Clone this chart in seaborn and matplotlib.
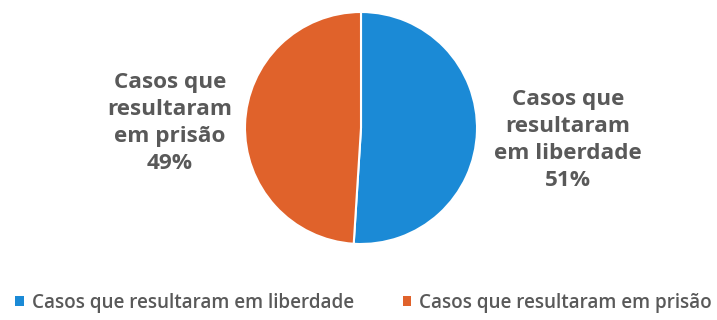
import matplotlib
matplotlib.use("Agg")
import matplotlib.pyplot as plt
import seaborn as sns
from matplotlib.patches import Patch

sns.set_theme(style="white")
plt.rcParams['font.family'] = ['Open Sans', 'DejaVu Sans']

categories = ["Casos que resultaram em liberdade", "Casos que resultaram em prisão"]
values = [51, 49]
slice_labels = ["Casos que\nresultaram\nem liberdade", "Casos que\nresultaram\nem prisão"]
colors = ["#1B8AD6", "#E0622B"]

W, H = 717, 320
fig = plt.figure(figsize=(W / 100, H / 100), dpi=100)
fig.patch.set_facecolor("white")

cx, cy, r = 361, 128, 116
ax = fig.add_axes([(cx - r) / W, 1 - (cy + r) / H, 2 * r / W, 2 * r / H])
ax.pie(values, colors=colors, startangle=90, counterclock=False, radius=1,
       wedgeprops=dict(edgecolor="white", linewidth=1.5))
ax.set_xlim(-1, 1)
ax.set_ylim(-1, 1)
ax.set_aspect("equal")
ax.axis("off")

text_color = "#595959"
label_pos = [(568, 140), (170, 123)]
for lbl, v, (x, y) in zip(slice_labels, values, label_pos):
    fig.text(x / W, 1 - y / H, f"{lbl}\n{v}%", ha="center", va="center",
             fontsize=16.2, fontweight="bold", color=text_color, linespacing=1.38)

handles = [Patch(facecolor=c, edgecolor="none") for c in colors]
leg = fig.legend(handles, categories, loc="center", bbox_to_anchor=(0.5 + 5 / W, 1 - 303 / H),
                 ncol=2, frameon=False, fontsize=13.6, handlelength=0.45, handleheight=0.45,
                 handletextpad=0.4, columnspacing=2.6)
for t in leg.get_texts():
    t.set_color(text_color)
    t.set_fontweight("semibold")

fig.savefig("out.png", dpi=100, facecolor="white")
